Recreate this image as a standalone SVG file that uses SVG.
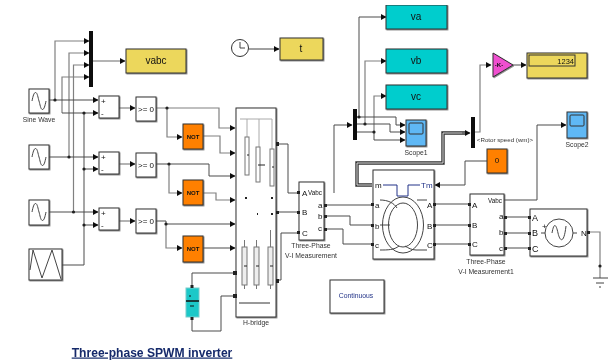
<svg xmlns="http://www.w3.org/2000/svg" width="609" height="364" viewBox="0 0 609 364">
<style>
text{font-family:"Liberation Sans",Arial,sans-serif;fill:#111}
.b{stroke:#333;stroke-width:1;filter:url(#sh)}
.w{fill:#fff}.y{fill:#ecd75b}.c{fill:#00cdcd}.o{fill:#ff8000}.s{fill:#5fb8f5}
.l{font-size:6.800px;text-anchor:middle;fill:#333}
.n{font-size:6px;text-anchor:middle;font-weight:bold}
.r{font-size:8px;text-anchor:middle}
.m{font-size:10px;text-anchor:middle}
.p{font-size:8px}
.v{font-size:6.300px}
.ic{fill:none;stroke:#444;stroke-width:1}
#wires path{fill:none;stroke:#4a4a4a;stroke-width:1}
#wires .a{marker-end:url(#ar)}
#wires .g{stroke:#808080;stroke-width:1.2}
#wires .t{stroke:#333;stroke-width:3.4}
#wires .ti{stroke:#ddd;stroke-width:1}
.d{fill:#222}
.q{fill:#222}
</style>
<defs>
<marker id="ar" markerUnits="userSpaceOnUse" markerWidth="6" markerHeight="6" refX="5" refY="3" orient="auto"><path d="M0 0L5.500 3L0 6z" fill="#111"/></marker>
<filter id="sh" x="-15%" y="-15%" width="130%" height="130%"><feDropShadow dx="0.8" dy="0.8" stdDeviation="0.4" flood-color="#555" flood-opacity="0.8"/></filter>
<filter id="soft" x="0" y="0" width="100%" height="100%"><feGaussianBlur stdDeviation="0.35"/></filter>
<path id="sw" d="M-7 0C-6 -5 -5 -8.500 -3.500 -8.500C-1.500 -8.500 -1 -3 0 0C1 3 1.500 8.500 3.500 8.500C5 8.500 6 5 7 0" fill="none" stroke="#444"/>
</defs>
<rect width="609" height="364" fill="#fff"/>
<g filter="url(#soft)">
<g id="wires">
<path class="g a" d="M55 100V41H89"/>
<path class="g a" d="M69 157V53H89"/>
<path class="g a" d="M73.500 212V65H89"/>
<path class="g a" d="M62 113V77H89"/>
<path class="g a" d="M93 61H125"/>
<path class="a" d="M49 100H98"/>
<path class="a" d="M62 113H98"/>
<path class="a" d="M49 157H98"/>
<path class="a" d="M84 169H98"/>
<path class="a" d="M49 212H98"/>
<path class="a" d="M84 225H98"/>
<path d="M62 265H84V113"/>
<path class="g a" d="M119 108H135"/>
<path class="g a" d="M119 164H135"/>
<path class="g a" d="M119 221H135"/>
<path class="g a" d="M156 108H219V128H235"/>
<path class="g a" d="M167 108V137H182"/>
<path class="g a" d="M203 136H220V153H235"/>
<path class="a" d="M156 164H209V176H235"/>
<path class="g a" d="M169 164V193H182"/>
<path class="g a" d="M203 193H216V200H235"/>
<path class="a" d="M156 221H166V224H235"/>
<path class="g a" d="M166 224V248H182"/>
<path class="a" d="M203 248H235"/>
<path d="M192 288V273H235"/>
<path d="M192 317V331H221V296H235"/>
<path d="M278 144H288V193H298"/>
<path d="M278 212H298"/>
<path d="M278 280H281V233H298"/>
<path class="a" d="M334 193V125H352"/>
<path class="a" d="M359 117V17H386"/>
<path class="g a" d="M365 124V61H386"/>
<path class="g a" d="M374 132V96H386"/>
<path class="a" d="M356 117H396V125H405"/>
<path class="a" d="M356 124H390V132H405"/>
<path class="a" d="M356 132H374V140H405"/>
<path class="t" d="M372 185H357V163H443V133H466"/>
<path class="ti" d="M372 185H357V163H443V133H466"/>
<path class="a" d="M462 133H470"/>
<path class="g a" d="M474 132H480V65H491"/>
<path class="a" d="M513 65H526"/>
<path class="a" d="M487 161H465V185H435"/>
<path d="M325 205H371"/>
<path d="M325 216H350V225H371"/>
<path d="M325 229H343V244H371"/>
<path d="M435 204H469"/>
<path d="M435 225H469"/>
<path d="M435 244H469"/>
<path d="M504 217H529"/>
<path d="M504 233H529"/>
<path d="M504 248H529"/>
<path class="a" d="M504 200H537V125H566"/>
<path class="g" d="M588 232H600V278"/>
<circle class="d" cx="55" cy="100" r="1.600"/><circle class="d" cx="84" cy="113" r="1.600"/>
<circle class="d" cx="69" cy="157" r="1.600"/><circle class="d" cx="84" cy="169" r="1.600"/>
<circle class="d" cx="73.500" cy="212" r="1.600"/><circle class="d" cx="84" cy="225" r="1.600"/>
<circle class="d" cx="167" cy="108" r="1.600"/><circle class="d" cx="169" cy="164" r="1.600"/>
<circle class="d" cx="166" cy="224" r="1.600"/>
<circle class="d" cx="359" cy="117" r="1.600"/><circle class="d" cx="365" cy="124" r="1.600"/>
<circle class="d" cx="374" cy="132" r="1.600"/><circle class="d" cx="600" cy="266" r="1.600"/>
</g>
<g id="mux1"><rect x="89" y="31" width="4" height="56" fill="#111"/></g>
<g id="vabc"><rect class="b y" x="126" y="49" width="60" height="24"/><text class="m" x="156" y="64">vabc</text></g>
<g id="sine1"><rect class="b w" x="29" y="89" width="20" height="24"/><use href="#sw" x="39" y="101"/><text class="l" x="39" y="122">Sine Wave</text></g>
<g id="sine2"><rect class="b w" x="29" y="145" width="20" height="24"/><use href="#sw" x="39" y="157"/></g>
<g id="sine3"><rect class="b w" x="29" y="200" width="20" height="25"/><use href="#sw" x="39" y="212"/></g>
<g id="triangle"><rect class="b w" x="29" y="249" width="33" height="31"/><path class="ic" d="M30 270L33 250L42 278L52 250L61 279"/></g>
<g id="sum1"><rect class="b w" x="99" y="96" width="20" height="22"/><text class="p" x="101" y="104">+</text><text class="p" x="101" y="116">-</text></g>
<g id="sum2"><rect class="b w" x="99" y="152" width="20" height="22"/><text class="p" x="101" y="160">+</text><text class="p" x="101" y="172">-</text></g>
<g id="sum3"><rect class="b w" x="99" y="208" width="20" height="22"/><text class="p" x="101" y="216">+</text><text class="p" x="101" y="228">-</text></g>
<g id="rel1"><rect class="b w" x="136" y="97" width="20" height="24"/><text class="r" x="146" y="112">&gt;= 0</text></g>
<g id="rel2"><rect class="b w" x="136" y="153" width="20" height="24"/><text class="r" x="146" y="168">&gt;= 0</text></g>
<g id="rel3"><rect class="b w" x="136" y="209" width="20" height="24"/><text class="r" x="146" y="224">&gt;= 0</text></g>
<g id="not1"><rect class="b o" x="183" y="124" width="20" height="25"/><text class="n" x="193" y="139">NOT</text></g>
<g id="not2"><rect class="b o" x="183" y="180" width="20" height="25"/><text class="n" x="193" y="195">NOT</text></g>
<g id="not3"><rect class="b o" x="183" y="236" width="20" height="26"/><text class="n" x="193" y="251">NOT</text></g>
<g id="hbridge">
<rect class="b w" x="236" y="108" width="40" height="209"/>
<g fill="#fff" stroke="#777" stroke-width="1">
<path d="M240 119H272M247 119V137M259 119V147M272 119V149" stroke="#aaa"/>
<rect x="245" y="137" width="4" height="38"/><rect x="256" y="147" width="4" height="35"/><rect x="270" y="149" width="4" height="37"/>
<rect x="242" y="247" width="5" height="38" fill="#eee"/><rect x="254" y="247" width="5" height="38" fill="#eee"/><rect x="268" y="247" width="5" height="38" fill="#eee"/>
<path d="M244.500 240V247M256.500 240V247M270.500 230V247M244.500 285V289M256.500 285V289M270.500 285V289"/>
<path d="M239 303H270" stroke="#333"/>
<path d="M244 266H247M256 266H259M270 266H273M247 155H249M258 165H265M272 167H274" stroke="#222"/>
</g>
<rect class="q" x="245" y="197" width="2" height="2"/><rect class="q" x="257" y="213" width="1" height="2"/><rect class="q" x="271" y="197" width="2" height="2"/><rect class="q" x="271" y="213" width="2" height="2"/>
<rect class="q" x="233" y="271" width="4" height="4"/><rect class="q" x="233" y="294" width="4" height="4"/>
<rect class="q" x="276" y="142" width="3" height="4"/><rect class="q" x="276" y="211" width="3" height="3"/><rect class="q" x="276" y="279" width="3" height="4"/>
<text class="l" x="256" y="325">H-bridge</text>
</g>
<g id="capacitor"><rect x="186" y="288" width="13" height="29" fill="#1cc8c8" stroke="#7cc"/><path d="M186 301H199" stroke="#111" stroke-width="1.500"/><path d="M189 296H191M190 306H194" stroke="#111"/><rect class="q" x="190.500" y="285" width="3" height="3"/><rect class="q" x="190.500" y="317" width="3" height="3"/></g>
<g id="clock"><circle cx="240" cy="48" r="8.500" fill="#fff" stroke="#333"/><path class="ic" d="M240 42V48H245"/><path d="M248.500 49H279" fill="none" stroke="#444" marker-end="url(#ar)"/></g>
<g id="t"><rect class="b y" x="280" y="38" width="43" height="22"/><text class="m" x="301" y="52">t</text></g>
<g id="meas"><rect class="b w" x="299" y="182" width="25" height="58"/>
<rect class="q" x="297" y="191" width="3" height="3"/><rect class="q" x="297" y="211" width="3" height="3"/><rect class="q" x="297" y="231" width="3" height="3"/><rect class="q" x="324" y="204" width="3" height="3"/><rect class="q" x="324" y="215" width="3" height="3"/><rect class="q" x="324" y="228" width="3" height="3"/>
<text class="p" x="302" y="196">A</text><text class="p" x="302" y="215">B</text><text class="p" x="302" y="236">C</text><text class="v" x="308" y="195">Vabc</text><text class="p" x="318" y="208">a</text><text class="p" x="318" y="219">b</text><text class="p" x="318" y="231">c</text>
<text class="l" x="311" y="248">Three-Phase</text><text class="l" x="311" y="258">V-I Measurement</text></g>
<g id="mux2"><rect x="353" y="109" width="4" height="31" fill="#111"/></g>
<g id="va"><rect class="b c" x="386" y="5" width="61" height="24"/><text class="m" x="416" y="20">va</text></g>
<g id="vb"><rect class="b c" x="386" y="49" width="61" height="24"/><text class="m" x="416" y="64">vb</text></g>
<g id="vc"><rect class="b c" x="386" y="85" width="61" height="24"/><text class="m" x="416" y="100">vc</text></g>
<g id="scope1"><rect class="b s" x="406" y="120" width="20" height="26"/><rect x="409" y="123" width="14" height="11" rx="1" fill="#5fb8f5" stroke="#333"/><text class="l" x="416" y="155">Scope1</text></g>
<g id="scope2"><rect class="b s" x="567" y="112" width="20" height="26"/><rect x="570" y="115" width="14" height="11" rx="1" fill="#5fb8f5" stroke="#333"/><text class="l" x="577" y="147">Scope2</text></g>
<g id="mux3"><rect x="471" y="117" width="4" height="31" fill="#111"/><text class="l" x="505" y="142" style="font-size:6.200px">&lt;Rotor speed (wm)&gt;</text></g>
<g id="gain"><path class="b" d="M493 53L513 65L493 77z" fill="#f050d0"/><text class="n" x="499" y="67">-K-</text></g>
<g id="display"><rect class="b y" x="527" y="53" width="60" height="25"/><rect x="529" y="55" width="46" height="11" fill="#ecd75b" stroke="#333"/><text x="574" y="64" font-size="7.500" text-anchor="end">1234</text></g>
<g id="const0"><rect class="b o" x="487" y="149" width="20" height="24"/><text class="r" x="497" y="163">0</text></g>
<g id="machine"><rect class="b w" x="373" y="170" width="61" height="89"/>
<ellipse class="ic" cx="403" cy="225" rx="20.500" ry="28"/><ellipse class="ic" cx="403" cy="225" rx="14.500" ry="22"/>
<path d="M383 185H397V196H408V185H420" fill="none" stroke="#223388"/>
<path class="ic" d="M380 200C388 200 394 203 397 208M380 225H390M380 250C388 250 394 250 399 246M427 200H417M427 250H416C412 250 408 248 405 246"/>
<rect class="q" x="371" y="203" width="3" height="3"/><rect class="q" x="371" y="224" width="3" height="3"/><rect class="q" x="371" y="243" width="3" height="3"/><rect class="q" x="433" y="203" width="3" height="3"/><rect class="q" x="433" y="224" width="3" height="3"/><rect class="q" x="433" y="243" width="3" height="3"/>
<text class="p" x="375" y="188">m</text><text class="p" x="421" y="188" style="fill:#223388">Tm</text><text class="p" x="375" y="208">a</text><text class="p" x="375" y="229">b</text><text class="p" x="375" y="248">c</text><text class="p" x="427" y="208">A</text><text class="p" x="427" y="229">B</text><text class="p" x="427" y="248">C</text></g>
<g id="meas1"><rect class="b w" x="470" y="194" width="34" height="61"/>
<rect class="q" x="468" y="203" width="3" height="3"/><rect class="q" x="468" y="224" width="3" height="3"/><rect class="q" x="468" y="243" width="3" height="3"/><rect class="q" x="504" y="216" width="3" height="3"/><rect class="q" x="504" y="232" width="3" height="3"/><rect class="q" x="504" y="247" width="3" height="3"/>
<text class="p" x="472" y="208">A</text><text class="p" x="472" y="228">B</text><text class="p" x="472" y="247">C</text><text class="v" x="488" y="203">Vabc</text><text class="p" x="499" y="219">a</text><text class="p" x="499" y="235">b</text><text class="p" x="499" y="251">c</text>
<text class="l" x="486" y="264">Three-Phase</text><text class="l" x="486" y="274">V-I Measurement1</text></g>
<g id="source"><rect class="b w" x="530" y="209" width="57" height="47"/><circle class="ic" cx="559" cy="233" r="14"/><path class="ic" d="M552 233C554 222 556 224 558 233C560 242 564 244 566 226M541 233H545M573 233H577"/>
<rect class="q" x="528" y="216" width="3" height="3"/><rect class="q" x="528" y="232" width="3" height="3"/><rect class="q" x="528" y="247" width="3" height="3"/><rect class="q" x="587" y="231" width="3" height="3"/>
<text x="532" y="221" font-size="9">A</text><text x="532" y="236" font-size="9">B</text><text x="532" y="252" font-size="9">C</text><text x="542" y="229" font-size="8">+</text><text x="581" y="236" font-size="8">N</text></g>
<g id="ground"><path d="M593 278H608M596 283H604M599 287H601" stroke="#444" fill="none"/></g>
<g id="continuous"><rect class="b w" x="330" y="280" width="54" height="33"/><text x="356" y="298" font-size="6.800" text-anchor="middle" style="fill:#223388">Continuous</text></g>
<text id="title" x="152" y="356.500" font-size="12.100" font-weight="bold" text-anchor="middle" text-decoration="underline" style="fill:#14296b">Three-phase SPWM inverter</text>
</g>
</svg>
